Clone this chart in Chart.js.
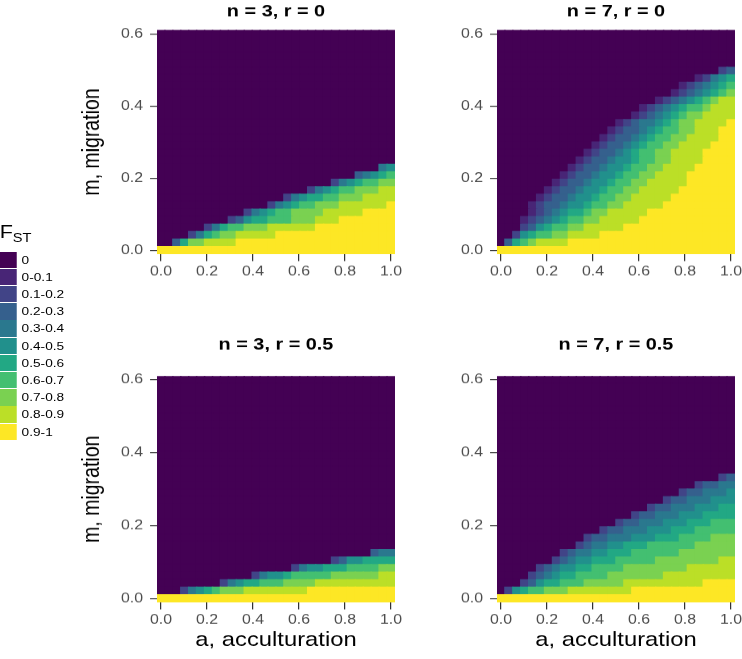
<!DOCTYPE html>
<html>
<head>
<meta charset="utf-8">
<script src="https://cdn.jsdelivr.net/npm/chart.js@4.4.1/dist/chart.umd.min.js"></script>
<style>
  html, body { margin: 0; padding: 0; background: #fff; }
  body { width: 742px; height: 659px; position: relative; overflow: hidden;
         font-family: "Liberation Sans", Arial, sans-serif; }
  canvas { position: absolute; }
  /* the whole figure is a little wider than tall, legend too */
  #legend { position: absolute; left: -4px; top: 219px; width: 70px; height: 240px; color: #000;
            transform: scaleX(1.22); transform-origin: 0 0; }
  #legend .ttl { position: absolute; left: 3px; top: 3px; font-size: 17.7px; line-height: 20px; white-space: nowrap; }
  #legend .ttl sub { font-size: 12px; vertical-align: -4px; }
  #legend .key { position: absolute; left: 0; width: 17px; }
  #legend .lab { position: absolute; left: 21px; font-size: 11.2px; white-space: nowrap; }
</style>
</head>
<body>
<canvas id="p1" width="300" height="300" style="left:60px;top:0;width:366px;height:300px"></canvas>
<canvas id="p2" width="250" height="300" style="left:440px;top:0;width:305px;height:300px"></canvas>
<canvas id="p3" width="300" height="325" style="left:60px;top:334px;width:366px;height:325px"></canvas>
<canvas id="p4" width="250" height="325" style="left:440px;top:334px;width:305px;height:325px"></canvas>
<div id="legend"></div>

<script>
// grid of the simulation: a (acculturation) columns, m (migration) rows
const aValues = [0, 0.034483, 0.068966, 0.103448, 0.137931, 0.172414, 0.206897, 0.241379,
  0.275862, 0.310345, 0.344828, 0.37931, 0.413793, 0.448276, 0.482759, 0.517241,
  0.551724, 0.586207, 0.62069, 0.655172, 0.689655, 0.724138, 0.758621, 0.793103,
  0.827586, 0.862069, 0.896552, 0.931034, 0.965517, 1];
const mValues = [0, 0.02069, 0.041379, 0.062069, 0.082759, 0.103448, 0.124138, 0.144828,
  0.165517, 0.186207, 0.206897, 0.227586, 0.248276, 0.268966, 0.289655, 0.310345,
  0.331034, 0.351724, 0.372414, 0.393103, 0.413793, 0.434483, 0.455172, 0.475862,
  0.496552, 0.517241, 0.537931, 0.558621, 0.57931, 0.6];

const xTicks = [0, 0.2, 0.4, 0.6, 0.8, 1];
const yTicks = [0, 0.2, 0.4, 0.6];

const fstLabels = ['0', '0-0.1', '0.1-0.2', '0.2-0.3', '0.3-0.4', '0.4-0.5',
  '0.5-0.6', '0.6-0.7', '0.7-0.8', '0.8-0.9', '0.9-1'];
const fstColors = ['#440154', '#482576', '#414487', '#35608D', '#2A788E', '#21908C',
  '#22A884', '#43BF71', '#7AD151', '#BBDF27', '#FDE725'];

// FST class per cell, one string per m row from the bottom (class*count, A = 0.9-1)
// rows not listed are all class 0
const fstN3R0 = [
  'A*30',
  '0*2,3,6,8*2,9*4,A*20',
  '0*4,2,4,6,7,8*2,9*5,A*15',
  '0*6,2,4,6,7*2,8*3,9*6,A*10',
  '0*9,2,3,5,6*2,7*3,8*3,9*3,A*7',
  '0*11,2,4,5,6,7*2,8*4,9*5,A*4',
  '0*14,2,4,5,6,7*2,8*3,9*6,A',
  '0*16,2,4,5,6*2,7*2,8*3,9*4',
  '0*19,2,4,5,6,7*2,8*3,9*2',
  '0*22,2,4,5,6,7*2,8*2',
  '0*25,3,4,5,6,7',
  '0*28,4,5'
];
const fstN7R0 = [
  'A*30',
  '0,3,6,7,8,9*4,A*21',
  '0*2,2,5,6,7*2,8*2,9*4,A*17',
  '0*3,2,3,5,6,7*2,8*2,9*5,A*14',
  '0*3,1,2,3,4,5,6,7*2,8*2,9*5,A*12',
  '0*4,1,2,3,4,5,6*2,7,8*2,9*5,A*11',
  '0*4,1,2,3*2,4,5*2,6,7*2,8*2,9*5,A*9',
  '0*5,1,2,3*2,4,5*2,6,7*2,8*2,9*5,A*8',
  '0*6,1,2,3*2,4,5*2,6,7*2,8*2,9*5,A*7',
  '0*7,1,2,3*2,4,5*2,6,7*2,8*2,9*5,A*6',
  '0*8,1,2,3*2,4,5*2,6,7*2,8*2,9*4,A*6',
  '0*9,1,2,3*2,4,5*2,6,7*2,8*2,9*4,A*5',
  '0*10,1,2,3*2,4,5*2,6,7*2,8*2,9*4,A*4',
  '0*11,1,2,3*2,4,5,6,7*2,8*2,9*4,A*4',
  '0*12,1,2,3*2,4,5,6,7*2,8*2,9*4,A*3',
  '0*13,1,2,3*2,4,5,6,7*2,8*2,9*4,A*2',
  '0*14,1,2,3*2,4,5,6,7*2,8*2,9*3,A*2',
  '0*15,1,2,3,4*2,5,6,7,8*2,9*4,A',
  '0*17,1,2,3,4,5,6,7,8*2,9*4',
  '0*18,1,2,3,4,5,6,7*2,8,9*3',
  '0*20,1,2,3,4,5,6,7,8,9*2',
  '0*22,1,2,3,4,5,6,7,8',
  '0*23,1,2,3,4,5,6,7',
  '0*25,1,2,4,5,6',
  '0*28,2,3'
];
const fstN3R05 = [
  'A*30',
  '0*3,2,4,5,6,7,8*3,9*8,A*11',
  '0*8,2,4,5,6*2,7*3,8*4,9*10',
  '0*12,2,4,5*2,6,7*5,8*6,9*2',
  '0*17,2,4,5*2,6*3,7*4,8*2',
  '0*22,2,3,5*2,6*4',
  '0*27,3,4*2'
];
const fstN7R05 = [
  'A*30',
  '0,2,5,6,7*2,8*3,9*8,A*13',
  '0*3,2,3,5,6*2,7*3,8*5,9*10,A*4',
  '0*4,2,3,4,5,6*2,7*4,8*7,9*9',
  '0*5,2,3,4,5*2,6*2,7*4,8*8,9*6',
  '0*7,2,3,4,5*2,6*3,7*5,8*8,9*2',
  '0*8,2,3,4*2,5*2,6*3,7*6,8*7',
  '0*10,2,3,4*2,5*2,6*3,7*6,8*5',
  '0*11,2,3*2,4*3,5*3,6*3,7*4,8*3',
  '0*13,2,3*2,4*3,5*3,6*3,7*5',
  '0*15,2,3*2,4*3,5*3,6*3,7*3',
  '0*17,2,3*2,4*3,5*3,6*4',
  '0*19,2,3*2,4*3,5*3,6*2',
  '0*21,2,3*2,4*3,5*3',
  '0*23,2,3*2,4*3,5',
  '0*25,2,3*2,4*2',
  '0*28,2,3'
];

Chart.defaults.font.family = '"Liberation Sans", Arial, sans-serif';

// horizontal stretch of the figure (chart units -> page px)
const stretch = 1.22;

const halfCol = (aValues[1] - aValues[0]) / 2;
const halfRow = (mValues[1] - mValues[0]) / 2;

function decodeRow(text) {
  const out = [];
  if (!text) return out;
  text.split(',').forEach(tok => {
    const [c, n] = tok.split('*');
    const count = n ? parseInt(n, 10) : 1;
    for (let k = 0; k < count; k++) out.push(parseInt(c, 16));
  });
  return out;
}

function heatDatasets(rows) {
  return mValues.map((m, j) => {
    const classes = decodeRow(rows[j]);
    return {
      xAxisID: 'x',
      yAxisID: 'y',
      data: aValues.map(a => ({ x: a, y: [m - halfRow, m + halfRow] })),
      backgroundColor: aValues.map((a, i) => fstColors[classes[i] || 0]),
      borderWidth: 0,
      inflateAmount: 0.6,
      grouped: false,
      categoryPercentage: 1,
      barPercentage: 1
    };
  });
}

const tickFont = { size: 13 };
const tickColor = '#4d4d4d';

function makePanel(id, title, rows, o) {
  new Chart(document.getElementById(id), {
    type: 'bar',
    data: { datasets: heatDatasets(rows) },
    options: {
      responsive: false,
      animation: false,
      devicePixelRatio: stretch,
      layout: { padding: { left: 0, right: o.padRight, top: 0, bottom: 0 } },
      plugins: { legend: { display: false }, tooltip: { enabled: false } },
      scales: {
        x: {
          type: 'linear',
          position: 'bottom',
          offset: false,
          min: -halfCol,
          max: 1 + halfCol,
          afterBuildTicks: s => { s.ticks = xTicks.map(v => ({ value: v })); },
          afterFit: s => { s.height = o.bottomH; s.paddingLeft = 0; s.paddingRight = 0; },
          ticks: { callback: v => v.toFixed(1), font: tickFont, color: tickColor, padding: 3, maxRotation: 0 },
          grid: { offset: false, drawOnChartArea: false, drawTicks: true, tickLength: 7, color: '#333', lineWidth: 1 },
          border: { display: false },
          title: { display: o.xTitle, text: 'a, acculturation', color: '#000',
                   font: { size: 19.5 }, padding: { top: 0, bottom: 7.3 } }
        },
        head: {
          type: 'linear',
          position: 'top',
          afterFit: s => { s.height = o.topH; },
          ticks: { display: false },
          grid: { display: false },
          border: { display: false },
          title: { display: true, text: title, color: '#000',
                   font: { size: 16.3, weight: 'bold' }, padding: { top: o.titlePad, bottom: 0 } }
        },
        y: {
          type: 'linear',
          position: 'left',
          min: -halfRow,
          max: 0.6 + halfRow,
          afterBuildTicks: s => { s.ticks = yTicks.map(v => ({ value: v })); },
          afterFit: s => { s.width = o.leftW; s.paddingTop = 0; s.paddingBottom = 0; },
          ticks: { callback: v => v.toFixed(1), font: tickFont, color: tickColor, padding: 5.7 },
          grid: { drawOnChartArea: false, drawTicks: true, tickLength: 5.7, color: '#333', lineWidth: 1 },
          border: { display: false },
          title: { display: o.yTitle, text: 'm, migration', color: '#000',
                   font: { size: 19.5 }, padding: { top: 14.5, bottom: 0 } }
        }
      }
    }
  });
}

makePanel('p1', 'n = 3, r = 0', fstN3R0,
  { leftW: 79.51, padRight: 25.41, topH: 30, bottomH: 46, titlePad: 2, yTitle: true, xTitle: false });
makePanel('p2', 'n = 7, r = 0', fstN7R0,
  { leftW: 46.72, padRight: 8.2, topH: 30, bottomH: 46, titlePad: 2, yTitle: false, xTitle: false });
makePanel('p3', 'n = 3, r = 0.5', fstN3R05,
  { leftW: 79.51, padRight: 25.41, topH: 42, bottomH: 57, titlePad: 1.2, yTitle: true, xTitle: true });
makePanel('p4', 'n = 7, r = 0.5', fstN7R05,
  { leftW: 46.72, padRight: 8.2, topH: 42, bottomH: 57, titlePad: 1.2, yTitle: false, xTitle: true });

// legend of FST classes
const legend = document.getElementById('legend');
const ttl = document.createElement('div');
ttl.className = 'ttl';
ttl.innerHTML = 'F<sub>ST</sub>';
legend.appendChild(ttl);
fstLabels.forEach((lab, j) => {
  const key = document.createElement('div');
  key.className = 'key';
  key.style.top = (32.5 + j * 17.2) + 'px';
  key.style.height = '16.6px';
  key.style.background = fstColors[j];
  legend.appendChild(key);
  const txt = document.createElement('div');
  txt.className = 'lab';
  txt.style.top = (32.5 + j * 17.2) + 'px';
  txt.style.lineHeight = '17.2px';
  txt.textContent = lab;
  legend.appendChild(txt);
});
</script>
</body>
</html>
